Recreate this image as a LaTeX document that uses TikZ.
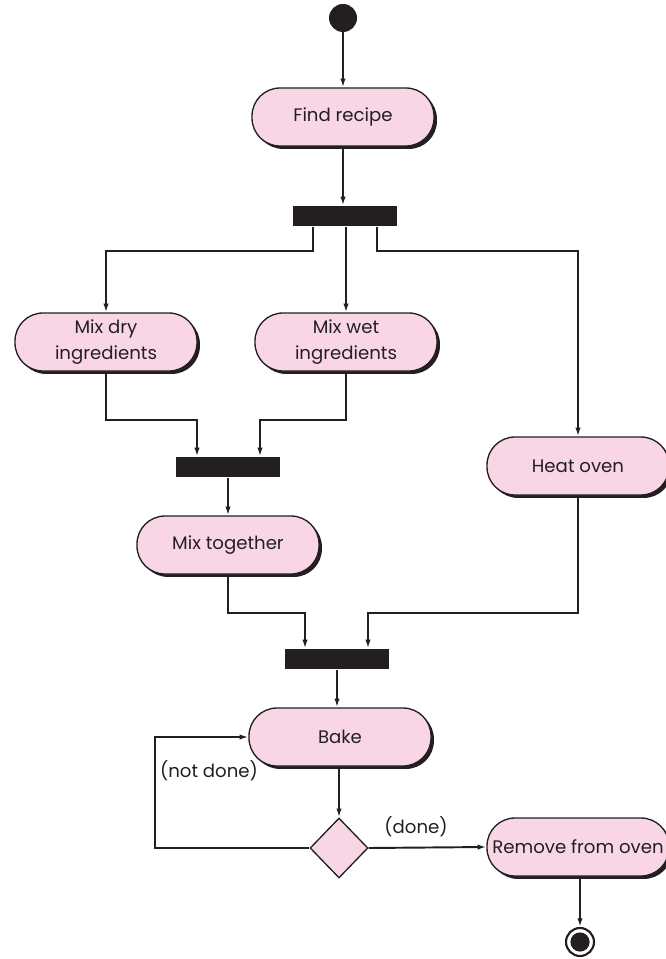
\documentclass[tikz,border=0pt]{standalone}
\usepackage{fontspec}
\setmainfont{Poppins}
\usetikzlibrary{arrows.meta,shapes.geometric,shadows,calc}
\definecolor{ink}{HTML}{231F20}
\definecolor{pinkfill}{RGB}{249,214,230}
\begin{document}
\begin{tikzpicture}[x=0.75pt,y=-0.75pt,
  every node/.style={text=ink},
  act/.style={draw=ink, fill=pinkfill, line width=1pt, rounded corners=21pt,
    minimum width=136.5pt, minimum height=43.5pt, inner sep=2pt, align=center,
    font=\fontsize{13.6}{19.5}\selectfont,
    drop shadow={shadow xshift=2.2pt, shadow yshift=-2.2pt, fill=ink, opacity=1}},
  barnode/.style={fill=ink, minimum width=77.5pt, minimum height=15.5pt, inner sep=0pt},
  decnode/.style={diamond, draw=ink, fill=pinkfill, line width=1pt, minimum width=43.5pt, minimum height=45pt, inner sep=0pt},
  conn/.style={draw=ink, line width=1.45pt},
  arr/.style={conn, -{Latex[length=6.5pt,width=4pt]}},
  lbl/.style={font=\fontsize{13.6}{16}\selectfont, inner sep=0pt}
]
\useasboundingbox (0,0) rectangle (666,959);

\node[circle, fill=ink, minimum size=21pt, inner sep=0pt] (start) at (343,18) {};
\node[act] (find) at (343,117) {Find recipe};
\node[barnode] (bar1) at (345,216) {};
\node[act] (mixdry) at (106,342) {Mix dry\\ingredients};
\node[act] (mixwet) at (346,342) {Mix wet\\ingredients};
\node[barnode] (bar2) at (228,467) {};
\node[act] (heat) at (578,466) {Heat oven};
\node[act] (mixtog) at (228,545) {Mix together};
\node[barnode] (bar3) at (337,659) {};
\node[act] (bake) at (340,737) {Bake};
\node[decnode] (dec) at (339,848) {};
\node[act] (remove) at (578,847) {Remove from oven};
\node[circle, draw=ink, line width=1.6pt, minimum size=21pt, inner sep=0pt] (end) at (580,942) {};
\fill[ink] (end.center) circle (7.2pt);

\coordinate (f1l) at (313,251);
\coordinate (f1r) at (377,251);
\coordinate (j2l) at (197,420);
\coordinate (j2r) at (260,420);
\coordinate (j3l) at (305,613);
\coordinate (j3r) at (368,613);
\coordinate (loop) at (155,790);

\draw[arr] (start) -- (find);
\draw[arr] (find.south) -- (find.south |- bar1.north);
\draw[arr] (f1l |- bar1.south) -- (f1l) -| (mixdry.north);
\draw[arr] (mixwet.north |- bar1.south) -- (mixwet.north);
\draw[arr] (f1r |- bar1.south) -- (f1r) -| (heat.north);
\draw[arr] (mixdry.south) |- (j2l) -- (j2l |- bar2.north);
\draw[arr] (mixwet.south) |- (j2r) -- (j2r |- bar2.north);
\draw[arr] (bar2.south) -- (bar2.south |- mixtog.north);
\draw[arr] (mixtog.south) |- (j3l) -- (j3l |- bar3.north);
\draw[arr] (heat.south) |- (j3r) -- (j3r |- bar3.north);
\draw[arr] (bar3.south) -- (bar3.south |- bake.north);
\draw[arr] (dec.north |- bake.south) -- (dec.north);
\draw[arr] (dec.east) -- (remove.west);
\draw[arr] (dec.west) -| (loop) |- (bake.west);
\draw[arr] (remove.south -| end.north) -- (end.north);

\node[lbl] (donelbl) at (416,827) {(done)};
\node[lbl] (notdonelbl) at (209,771) {(not done)};
\end{tikzpicture}
\end{document}
